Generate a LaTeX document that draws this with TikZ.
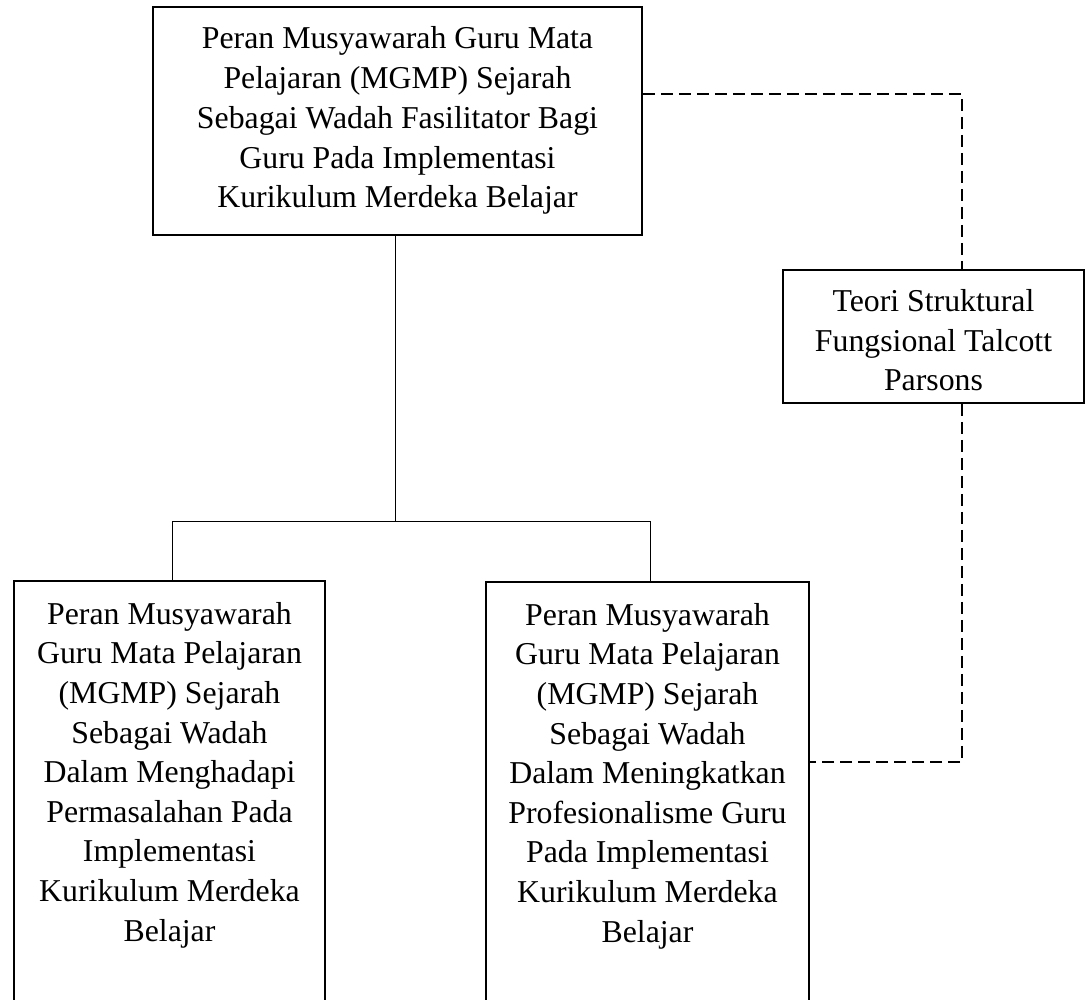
\documentclass[tikz,border=0pt]{standalone}
\usepackage{fontspec}
\setmainfont{Liberation Serif}
\begin{document}
\begin{tikzpicture}[x=1pt,y=-1pt,
  box/.style={draw, line width=1.6pt, inner sep=0pt},
  txt/.style={align=center, inner sep=0pt, anchor=north},
  conn/.style={line width=1pt},
  dconn/.style={line width=1.3pt, dash pattern=on 12pt off 6pt}]
\useasboundingbox (0,0) rectangle (1091,1000);
\clip (0,0) rectangle (1091,1000);
\fill[white] (0,0) rectangle (1091,1000);
% top box
\node[box, minimum width=489pt, minimum height=228pt] (top) at (397.5,121) {};
\node[txt, font=\fontsize{31.8pt}{39.75pt}\selectfont] (toptext) at (397.5,26.5)
  {Peran Musyawarah Guru Mata\\Pelajaran (MGMP) Sejarah\\Sebagai Wadah Fasilitator Bagi\\Guru Pada Implementasi\\Kurikulum Merdeka Belajar};
% theory box
\node[box, minimum width=301pt, minimum height=133pt] (teori) at (933.5,336.5) {};
\node[txt, font=\fontsize{31.8pt}{39.5pt}\selectfont] (teoritext) at (933.5,289.5)
  {Teori Struktural\\Fungsional Talcott\\Parsons};
% bottom boxes
\node[box, minimum width=311pt, minimum height=440pt, anchor=north] (bl) at (169.5,580) {};
\node[txt, font=\fontsize{31.8pt}{39.6pt}\selectfont] (bltext) at (169.5,602)
  {Peran Musyawarah\\Guru Mata Pelajaran\\(MGMP) Sejarah\\Sebagai Wadah\\Dalam Menghadapi\\Permasalahan Pada\\Implementasi\\Kurikulum Merdeka\\Belajar};
\node[box, minimum width=323pt, minimum height=440pt, anchor=north] (br) at (647.5,581) {};
\node[txt, font=\fontsize{31.8pt}{39.6pt}\selectfont] (brtext) at (647.5,603)
  {Peran Musyawarah\\Guru Mata Pelajaran\\(MGMP) Sejarah\\Sebagai Wadah\\Dalam Meningkatkan\\Profesionalisme Guru\\Pada Implementasi\\Kurikulum Merdeka\\Belajar};
% solid tree connectors
\coordinate (j) at (395,521);
\coordinate (jl) at (172,521);
\coordinate (jr) at (650,521);
\draw[conn] (top.south -| j) -- (j);
\draw[conn] (bl.north -| jl) -- (jl) -- (jr) -- (br.north -| jr);
% dashed connectors
\coordinate (dx) at (962,94);
\coordinate (dy) at (962,762);
\draw[dconn] (dx -| top.east) -- (dx) -- (dx |- teori.north);
\draw[dconn] (dx |- teori.south) -- (dy) -- (dy -| br.east);
\end{tikzpicture}
\end{document}
